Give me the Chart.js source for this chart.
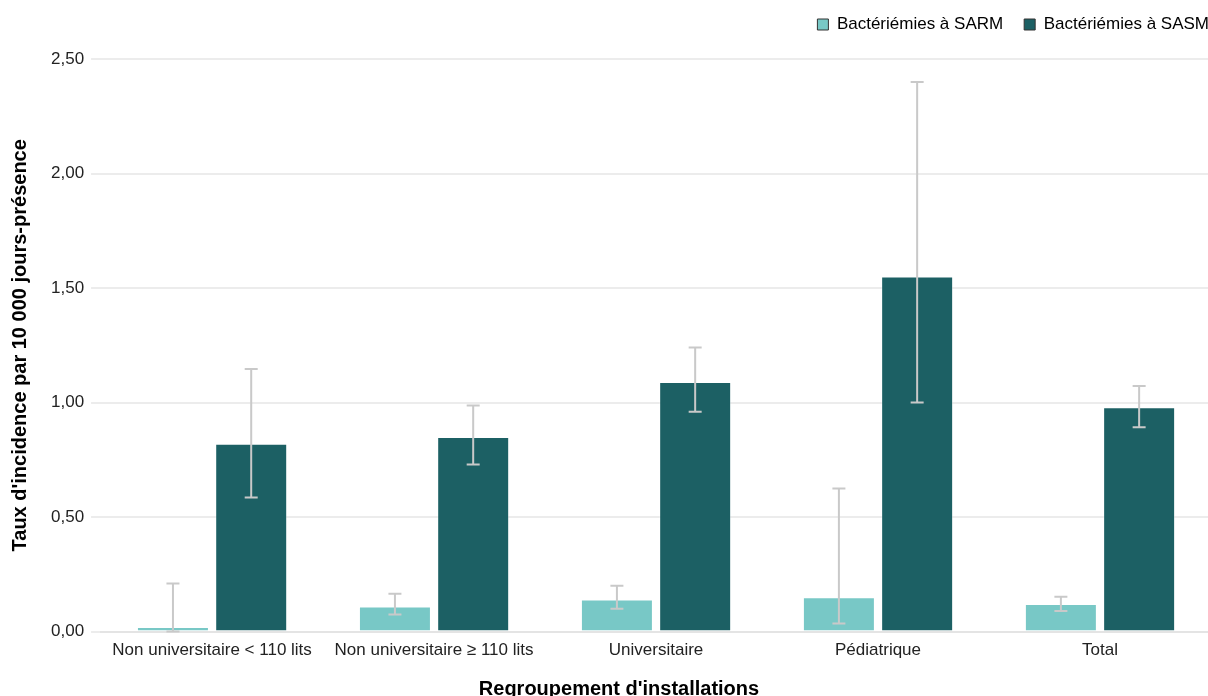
<!DOCTYPE html>
<html>
<head>
<meta charset="utf-8">
<script src="https://cdn.jsdelivr.net/npm/chart.js@4"></script>
<style>
	html, body { margin: 0; padding: 0; background: #fff; overflow: hidden; }
	#wrap { position: relative; top: -5px; width: 1230px; height: 706px; }
</style>
</head>
<body>
<div id="wrap"><canvas id="chart"></canvas></div>
<script>
const categories = ['Non universitaire < 110 lits', 'Non universitaire ≥ 110 lits', 'Universitaire', 'Pédiatrique', 'Total']
const seriesNames = ['Bactériémies à SARM', 'Bactériémies à SASM']

const sarm = [0.02, 0.11, 0.14, 0.15, 0.12]
const sarmLow = [0.00, 0.075, 0.10, 0.035, 0.09]
const sarmHigh = [0.21, 0.165, 0.20, 0.625, 0.152]

const sasm = [0.82, 0.85, 1.09, 1.55, 0.98]
const sasmLow = [0.585, 0.73, 0.96, 1.00, 0.892]
const sasmHigh = [1.147, 0.987, 1.24, 2.40, 1.072]

const yTicks = [0, 0.5, 1, 1.5, 2, 2.5]

const FONT = '"Liberation Sans", Arial, sans-serif'

// intervalles de confiance dessinés avec l'échelle y du graphique
const errorBars = {
	id: 'errorBars',
	afterDatasetsDraw(chart) {
		const ctx = chart.ctx
		const y = chart.scales.y
		chart.data.datasets.forEach((ds, i) => {
			const meta = chart.getDatasetMeta(i)
			if (meta.hidden) return
			meta.data.forEach((bar, j) => {
				const top = y.getPixelForValue(ds.high[j])
				const bottom = y.getPixelForValue(ds.low[j])
				ctx.save()
				ctx.strokeStyle = '#c9c9c9'
				ctx.lineWidth = 2
				ctx.beginPath()
				ctx.moveTo(bar.x, top)
				ctx.lineTo(bar.x, bottom)
				ctx.moveTo(bar.x - 6.5, top)
				ctx.lineTo(bar.x + 6.5, top)
				ctx.moveTo(bar.x - 6.5, bottom)
				ctx.lineTo(bar.x + 6.5, bottom)
				ctx.stroke()
				ctx.restore()
			})
		})
	}
}

const legendMargin = {
	id: 'legendMargin',
	beforeInit(chart) {
		const fit = chart.legend.fit
		chart.legend.fit = function () {
			fit.bind(chart.legend)()
			this.height += 16
		}
	}
}

const data = {
	labels: categories,
	datasets: [{
		label: seriesNames[0],
		data: sarm,
		low: sarmLow,
		high: sarmHigh,
		backgroundColor: '#78c8c6',
		borderColor: 'rgba(255,255,255,0.45)',
		borderWidth: 1
	}, {
		label: seriesNames[1],
		data: sasm,
		low: sasmLow,
		high: sasmHigh,
		backgroundColor: '#1c6064',
		borderColor: 'rgba(255,255,255,0.35)',
		borderWidth: 1
	}]
}

const config = {
	type: 'bar',
	data: data,
	options: {
		responsive: true,
		maintainAspectRatio: false,
		animation: false,
		barPercentage: 0.92,
		categoryPercentage: 0.705,
		layout: { padding: { top: 0, left: 8, right: 0, bottom: 0 } },
		plugins: {
			legend: {
				position: 'top',
				align: 'end',
				labels: {
					boxWidth: 11,
					boxHeight: 11,
					padding: 21,
					color: '#222',
					font: { family: FONT, size: 17 },
					generateLabels(chart) {
						return chart.data.datasets.map((ds, i) => ({
							text: ds.label,
							fillStyle: ds.backgroundColor,
							strokeStyle: '#333',
							lineWidth: 1,
							datasetIndex: i
						}))
					}
				}
			},
			// titre de l'axe x centré sur toute la largeur
			title: {
				display: true,
				position: 'bottom',
				text: "Regroupement d'installations",
				color: '#000',
				font: { family: FONT, size: 20, weight: 'bold' },
				padding: { top: 15, bottom: 0 }
			},
			tooltip: { enabled: false }
		},
		scales: {
			x: {
				grid: { display: false },
				border: { display: true, color: '#e4e4e4', width: 2 },
				ticks: { color: '#222', padding: 1, font: { family: FONT, size: 17 }, maxRotation: 0, autoSkip: false }
			},
			y: {
				min: 0,
				max: 2.5,
				afterBuildTicks(scale) {
					scale.ticks = yTicks.map(v => ({ value: v }))
				},
				grid: { color: '#ececec', lineWidth: 2, tickLength: 10 },
				border: { display: false },
				ticks: {
					color: '#222',
					padding: 7,
					font: { family: FONT, size: 17 },
					callback: v => v.toFixed(2).replace('.', ',')
				},
				title: { display: true, text: "Taux d'incidence par 10 000 jours-présence", color: '#000', font: { family: FONT, size: 20, weight: 'bold' }, padding: { top: 0, bottom: 12 } }
			},
			// marge à droite : la zone de tracé s'arrête au bord de la fenêtre
			yR: {
				type: 'linear',
				position: 'right',
				min: 0,
				max: 1,
				grid: { display: false, drawTicks: false },
				border: { display: false },
				ticks: { display: false },
				afterFit(scale) { scale.width = 19 }
			}
		}
	},
	plugins: [errorBars, legendMargin]
}

let ctx = document.getElementById('chart').getContext('2d')
new Chart(ctx, config)
</script>
</body>
</html>
